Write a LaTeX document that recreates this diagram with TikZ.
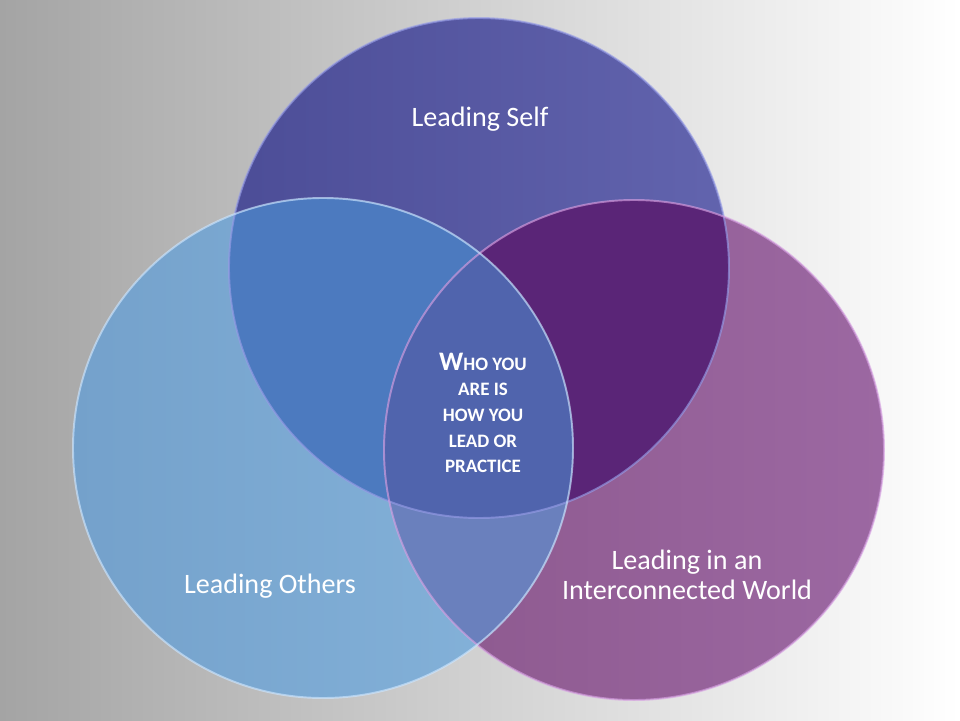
\documentclass[tikz,border=0pt]{standalone}
\usepackage{fontspec}
\setmainfont{Carlito}

\definecolor{bgleft}{HTML}{A4A4A4}
\definecolor{selfA}{HTML}{4C4D97}
\definecolor{selfB}{HTML}{6264AE}
\definecolor{othersA}{HTML}{74A1CB}
\definecolor{othersB}{HTML}{86B4DB}
\definecolor{worldA}{HTML}{8C588D}
\definecolor{worldB}{HTML}{9C68A2}
\definecolor{selfothers}{HTML}{4C7ABF}
\definecolor{selfworld}{HTML}{5A2577}
\definecolor{othersworld}{HTML}{6A80BD}
\definecolor{coreblue}{HTML}{5064AD}

\tikzset{
  ring text/.style = {text=white, align=center, font=\fontsize{16}{17}\selectfont},
  core text/.style = {text=white, align=center, font=\bfseries\fontsize{10.8}{14.6}\selectfont},
  rim/.style = {line width=1.1pt, draw opacity=0.65},
}

\begin{document}
\begin{tikzpicture}[x=0.02cm, y=-0.02cm]
    \shade[left color=bgleft, right color=white] (0,0) rectangle (960,720);
    \useasboundingbox (0,0) rectangle (960,720);

    \coordinate (cs) at (479,268);
    \coordinate (co) at (323,448);
    \coordinate (cw) at (634,450);

    \shade[left color=selfA, right color=selfB] (cs) circle (250);
    \shade[left color=worldA, right color=worldB] (cw) circle (250);
    \shade[left color=othersA, right color=othersB] (co) circle (250);

    \begin{scope}
        \clip (cs) circle (250);
        \fill[selfothers] (co) circle (250);
        \fill[selfworld] (cw) circle (250);
    \end{scope}
    \begin{scope}
        \clip (co) circle (250);
        \fill[othersworld] (cw) circle (250);
        \clip (cs) circle (250);
        \fill[coreblue] (cw) circle (250);
    \end{scope}

    \draw[rim, color={rgb,255:red,150;green,156;blue,230}] (cs) circle (250);
    \draw[rim, color={rgb,255:red,214;green,160;blue,226}] (cw) circle (250);
    \draw[rim, color={rgb,255:red,205;green,230;blue,255}] (co) circle (250);

    \node[ring text] (self) at (480,119) {Leading Self};
    \node[ring text] (others) at (270,586) {Leading Others};
    \node[ring text] (world) at (687,575) {Leading in an\\Interconnected World};
    \node[core text] (core) at (483,413)
        {{\fontsize{15.2}{14.6}\selectfont W}HO YOU\\ARE IS\\HOW YOU\\LEAD OR\\PRACTICE};
\end{tikzpicture}
\end{document}
